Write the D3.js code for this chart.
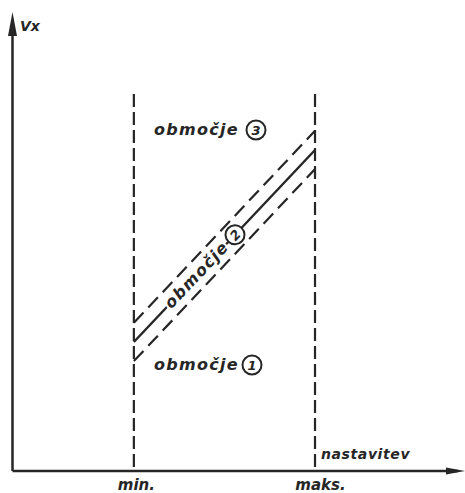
<!DOCTYPE html>
<html>
<head>
<meta charset="utf-8">
<script src="https://cdn.jsdelivr.net/npm/d3@7"></script>
<style>
  html, body { margin: 0; padding: 0; background: #fff; }
  svg { display: block; }
  text { font-family: "DejaVu Sans", sans-serif; font-weight: bold; font-style: italic; fill: #262626; }
</style>
</head>
<body>
<svg id="chart" width="465" height="493"></svg>
<script>
// Setting range (x) and the resulting Vx characteristic
const settingLabels = ["min.", "maks."];
const settings = [27, 67.3];          // min and max setting positions
const vxCenter = [28.3, 70.4];        // nominal Vx at min and max setting
const tolerance = [4.2, 4.2];         // half-width of the tolerance band
const regionLabels = ["območje", "območje", "območje"];
const regionNumbers = ["1", "2", "3"];
const boundaryTop = 82.7;             // top of the min/max boundary lines

const ink = "#262626";

const svg = d3.select("#chart");

const x = d3.scaleLinear().domain([0, 100]).range([12.5, 462]);
const y = d3.scaleLinear().domain([0, 100]).range([471, 15]);

// Axis lines with arrow heads
const axisG = svg.append("g");
axisG.append("line")
  .attr("x1", x(0)).attr("y1", y(0)).attr("x2", 458).attr("y2", y(0))
  .attr("stroke", ink).attr("stroke-width", 2.5);
axisG.append("line")
  .attr("x1", x(0)).attr("y1", y(0)).attr("x2", x(0)).attr("y2", 30)
  .attr("stroke", ink).attr("stroke-width", 2.5);
axisG.append("path")
  .attr("d", `M${x(0)},12 L${x(0) + 4.5},36 L${x(0) - 4.5},36 Z`)
  .attr("fill", ink);
axisG.append("path")
  .attr("d", `M465,${y(0)} L446,${y(0) - 3.5} L446,${y(0) + 3.5} Z`)
  .attr("fill", ink);

// Bottom axis: labels for the min / max settings
const xAxis = d3.axisBottom(x)
  .tickValues(settings)
  .tickFormat((d, i) => settingLabels[i])
  .tickSize(0)
  .tickPadding(0);
const xAxisG = svg.append("g")
  .attr("transform", `translate(0,${y(0)})`)
  .call(xAxis);
xAxisG.select(".domain").remove();
xAxisG.selectAll("text")
  .attr("y", 19)
  .attr("dy", 0)
  .attr("dx", (d, i) => i === 0 ? 2 : 5)
  .style("font-size", "15px")
  .attr("fill", ink);

// Axis titles
svg.append("text")
  .attr("x", 20).attr("y", 31)
  .style("font-size", "14px")
  .text("Vx");
svg.append("text")
  .attr("x", x(settings[1]) + 6).attr("y", 459)
  .style("font-size", "14px")
  .attr("letter-spacing", 0.6)
  .text("nastavitev");

// Vertical boundaries at min and max setting
svg.append("g").selectAll("line")
  .data(settings)
  .join("line")
  .attr("x1", d => x(d)).attr("x2", d => x(d))
  .attr("y1", y(boundaryTop)).attr("y2", y(0))
  .attr("stroke", ink).attr("stroke-width", 2.2)
  .attr("stroke-dasharray", "13,5");

// Nominal characteristic and its tolerance band
const pts = settings.map((s, i) => ({ s, c: vxCenter[i], t: tolerance[i] }));
const line = d3.line().x(d => x(d[0])).y(d => y(d[1]));

svg.append("path")
  .attr("d", line(pts.map(p => [p.s, p.c + p.t])))
  .attr("fill", "none").attr("stroke", ink).attr("stroke-width", 2.2)
  .attr("stroke-dasharray", "14,7");
svg.append("path")
  .attr("d", line(pts.map(p => [p.s, p.c - p.t])))
  .attr("fill", "none").attr("stroke", ink).attr("stroke-width", 2.2)
  .attr("stroke-dasharray", "14,7");
svg.append("path")
  .attr("d", line(pts.map(p => [p.s, p.c])))
  .attr("fill", "none").attr("stroke", ink).attr("stroke-width", 2.4);

// Region label with a circled number
function regionLabel(g, label, num, textEndGap, halo) {
  const t = g.append("text")
    .attr("x", -textEndGap).attr("y", 5)
    .attr("text-anchor", "end")
    .style("font-size", "16px")
    .attr("letter-spacing", 1.3)
    .text(label);
  if (halo) {
    t.attr("stroke", "#fff").attr("stroke-width", 4).attr("paint-order", "stroke");
  }
  g.append("circle")
    .attr("r", 9.5)
    .attr("fill", "#fff").attr("stroke", ink).attr("stroke-width", 2);
  g.append("text")
    .attr("x", 0).attr("y", 5)
    .attr("text-anchor", "middle")
    .style("font-size", "13px")
    .text(num);
  return g;
}

// Region 3 (above the band)
regionLabel(svg.append("g").attr("transform", "translate(256,130)"),
  regionLabels[2], regionNumbers[2], 17, false);

// Region 1 (below the band)
regionLabel(svg.append("g").attr("transform", "translate(252,365)"),
  regionLabels[0], regionNumbers[0], 13, false);

// Region 2 (inside the band), written along the characteristic
const ang = Math.atan2(y(vxCenter[1]) - y(vxCenter[0]), x(settings[1]) - x(settings[0])) * 180 / Math.PI;
const sAt = x.invert(235);
const cAt = vxCenter[0] + (vxCenter[1] - vxCenter[0]) * (sAt - settings[0]) / (settings[1] - settings[0]);
regionLabel(svg.append("g").attr("transform", `translate(${x(sAt)},${y(cAt)}) rotate(${ang})`),
  regionLabels[1], regionNumbers[1], 13, true);
</script>
</body>
</html>
